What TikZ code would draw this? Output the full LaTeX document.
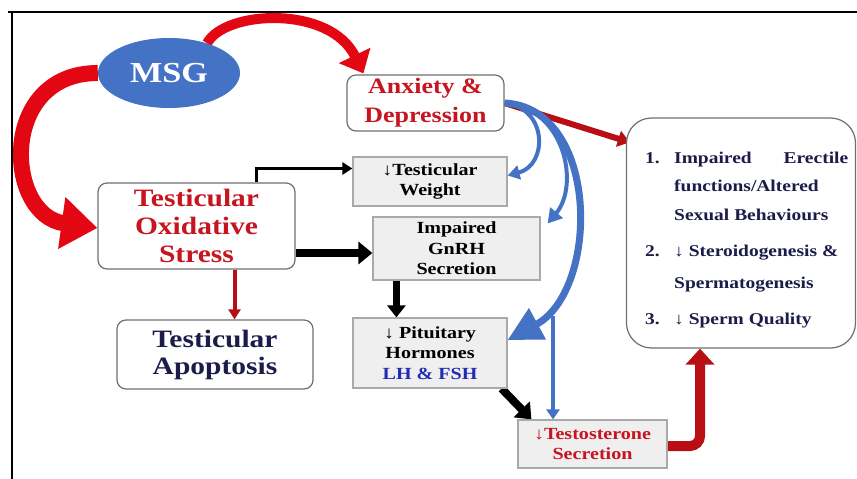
\documentclass[tikz,border=0pt]{standalone}
\usepackage{fontspec}
\setmainfont{Liberation Serif}[FakeStretch=1.18]
\usetikzlibrary{arrows.meta,shapes.geometric,backgrounds}
\definecolor{rtxt}{HTML}{C8141E}
\definecolor{navy}{HTML}{1C1C4A}
\definecolor{bblue}{HTML}{4472C4}
\definecolor{brred}{HTML}{E30613}
\definecolor{dred}{HTML}{B80F14}
\definecolor{gfill}{HTML}{EFEFEF}
\definecolor{gline}{HTML}{6F6F6F}
\definecolor{lhblue}{HTML}{1F2DB4}
\begin{document}
\begin{tikzpicture}[x=1pt,y=-1pt,
  rbox/.style={draw=gline, line width=1.2pt, rounded corners=9pt, fill=white, align=center, inner sep=0pt},
  gbox/.style={draw=gline!60, line width=1.2pt, fill=gfill, align=center, inner sep=0pt},
  fs/.style={font=\bfseries\fontsize{17}{20.5}\selectfont},
  fb/.style={font=\bfseries\fontsize{25}{28}\selectfont},
  fr/.style={font=\bfseries\fontsize{16.5}{20}\selectfont, text=navy, anchor=base west, inner sep=0pt},
  blk/.style={draw=black},
]
\useasboundingbox (0,0) rectangle (857,479);
% frame
\draw[line width=2.5pt] (8,12) -- (857,12);
\draw[line width=2.5pt] (12,12) -- (12,479);

% nodes
\node[ellipse, fill=bblue, minimum width=142pt, minimum height=70pt, inner sep=0pt,
      text=white, font=\bfseries\fontsize{29}{32}\selectfont] (msg) at (169,73) {MSG};
\node[rbox, minimum width=157pt, minimum height=56pt, text=rtxt,
      font=\bfseries\fontsize{22}{29}\selectfont] (anx) at (425.5,103) {Anxiety \&\\Depression};
\node[gbox, fs, minimum width=154pt, minimum height=49pt] (wt) at (430,181.5) {↓Testicular\\Weight};
\node[gbox, fs, minimum width=167pt, minimum height=63pt] (gnrh) at (456.5,248.5) {Impaired\\GnRH\\Secretion};
\node[gbox, fs, minimum width=154pt, minimum height=70pt] (pit) at (430,353) {↓ Pituitary\\Hormones\\\textcolor{lhblue}{LH \& FSH}};
\node[gbox, fs, minimum width=149pt, minimum height=48pt, text=rtxt] (test) at (592.5,444) {↓Testosterone\\Secretion};
\node[rbox, fb, minimum width=197pt, minimum height=86pt, text=rtxt] (ox) at (196.5,226) {Testicular\\Oxidative\\Stress};
\node[rbox, fb, minimum width=196pt, minimum height=69pt, text=navy,
      font=\bfseries\fontsize{25}{27}\selectfont] (apo) at (215,354.5) {Testicular\\Apoptosis};
\node[draw=gline, line width=1.2pt, rounded corners=25pt, fill=white,
      minimum width=229pt, minimum height=230pt] (rt) at (741,233) {};

% right box text
\node[fr] (n1) at (645,163) {1.};
\node[fr] (l1) at (674,163) {\makebox[174pt][s]{Impaired\hfill Erectile}};
\node[fr] (l2) at (674,191) {functions/Altered};
\node[fr] (l3) at (674,220) {Sexual Behaviours};
\node[fr] (n2) at (645,256) {2.};
\node[fr] (l4) at (674,256) {↓ Steroidogenesis \&};
\node[fr] (l5) at (674,288) {Spermatogenesis};
\node[fr] (n3) at (645,324) {3.};
\node[fr] (l6) at (674,324) {↓ Sperm Quality};

\coordinate (bj) at (553,316);
\coordinate (oxa) at ([yshift=-27pt]ox.east);
\coordinate (ga) at ([xshift=24pt]gnrh.south west);
\coordinate (oxb) at ([xshift=38pt]ox.south);
\coordinate (oxc) at ([xshift=60pt]ox.north);

\begin{scope}[on background layer]
% MSG arcs
\draw[brred, line width=10pt, -{Triangle[width=34pt,length=20pt]}]
  (msg.38) .. controls (225,10) and (330,5) .. ([xshift=17pt,yshift=1pt]anx.north west);
\draw[brred, line width=16pt, -{Triangle[width=50pt,length=36pt]}]
  (msg.west) .. controls (-2,73) and (5,215) .. ([yshift=-2pt]ox.west);
% red to right box
\draw[dred, line width=6pt, -{Triangle[width=16pt,length=12pt]}]
  (anx.east) -- ([xshift=4pt,yshift=-25pt]rt.north west);
% blue arrows
\draw[bblue, line width=4pt, -{Triangle[width=14pt,length=12pt]}]
  (anx.east) .. controls (548,108) and (548,165) .. ([yshift=6pt]wt.east);
\draw[bblue, line width=4pt, -{Triangle[width=16pt,length=14pt]}]
  (anx.east) .. controls (565,108) and (580,185) .. ([xshift=7pt,yshift=-7pt]gnrh.north east);
\draw[bblue, line width=7pt, -{Triangle[width=34pt,length=34pt]}]
  (anx.east) .. controls (600,108) and (600,290) .. ([yshift=13pt]pit.east);
\draw[bblue, line width=4pt, -{Triangle[width=13pt,length=10pt]}]
  (bj) -- (bj |- test.north);
% black arrows
\draw[black, line width=3pt, -{Triangle[width=12pt,length=10pt]}]
  (oxc) |- ([yshift=13pt]wt.west);
\draw[black, line width=8pt, -{Triangle[width=22pt,length=14pt]}]
  (oxa) -- (oxa -| gnrh.west);
\draw[black, line width=7pt, -{Triangle[width=18pt,length=12pt]}]
  (ga) -- (ga |- pit.north);
\draw[black, line width=8pt, -{Triangle[width=22pt,length=14pt]}]
  ([xshift=-6pt]pit.south east) -- ([xshift=14pt]test.north west);
% red lower arrows
\draw[dred, line width=4pt, -{Triangle[width=12pt,length=10pt]}]
  (oxb) -- (oxb |- apo.north);
\draw[dred, line width=10pt, rounded corners=10pt, -{Triangle[width=28pt,length=16pt]}]
  ([yshift=-2pt]test.east) -| ([xshift=-41pt]rt.south);
\end{scope}
\end{tikzpicture}
\end{document}
